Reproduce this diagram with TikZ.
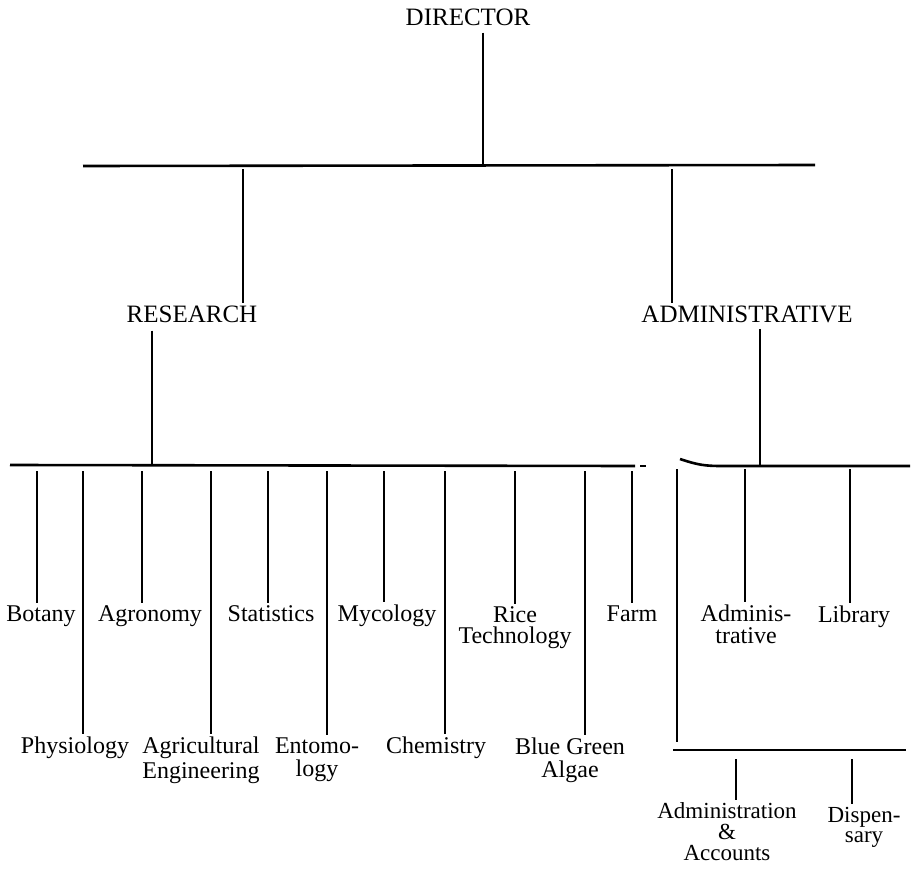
\documentclass[tikz,border=0pt]{standalone}
\usepackage{fontspec}
\setmainfont{Liberation Serif}
\usetikzlibrary{calc}

\begin{document}
\begin{tikzpicture}[
  x=0.5pt, y=-0.5pt,
  unit/.style={font=\fontsize{12}{11}\selectfont, align=center, inner sep=1pt, anchor=base},
  head/.style={unit, font=\fontsize{12.5}{13}\selectfont},
  link/.style={line width=1.3pt}
]
\useasboundingbox (0,0) rectangle (915,872);

% Top level
\node[head] (director) at (468,26) {DIRECTOR};
\node[head] (research) at (192,322) {RESEARCH};
\node[head] (admin) at (747,322) {ADMINISTRATIVE};

% Main bar
\coordinate (topL) at (83,166);
\coordinate (topR) at (815,165);
\coordinate (dirJ) at (483,166);
\coordinate (resJ) at (243,169);
\coordinate (admJ) at (672,169);
\draw[link] (topL) -- (topR);
\draw[link, shorten <=2pt] (dirJ |- director.south) -- (dirJ);
\draw[link] (resJ) -- (resJ |- research.north);
\draw[link] (admJ) -- (admJ |- admin.north);

% Research bar
\coordinate (resL) at (10,465);
\coordinate (resR) at (635,466);
\coordinate (resD) at (152,465);
\draw[link] (resL) -- (resR);
\draw[link] ($(resR)+(5,0)$) -- ++(6,0);
\draw[link, shorten <=3pt] (resD |- research.south) -- (resD);

% Research sections (multi-line: base = last line)
\node[unit] (botany) at (41,621) {Botany};
\node[unit] (agronomy) at (150,621) {Agronomy};
\node[unit] (statistics) at (271,621) {Statistics};
\node[unit] (mycology) at (387,621) {Mycology};
\node[unit, font=\fontsize{12}{10.5}\selectfont] (rice) at (515,643) {Rice\\Technology};
\node[unit] (farm) at (632,621) {Farm};
\node[unit] (physio) at (75,753) {Physiology};
\node[unit, font=\fontsize{12}{12.5}\selectfont] (agri) at (201,778) {Agricultural\\Engineering};
\node[unit, font=\fontsize{12}{11.5}\selectfont] (entomo) at (317,776) {Entomo-\\logy};
\node[unit] (chem) at (436,753) {Chemistry};
\node[unit, font=\fontsize{12}{11.5}\selectfont] (bluegreen) at (570,777) {Blue Green\\Algae};

\foreach \n/\x in {botany/37, physio/83, agronomy/142, agri/211, statistics/268,
                   entomo/327, mycology/384, chem/445, rice/515, bluegreen/585, farm/632}{
  \coordinate (\n-top) at (\x,471);
  \draw[link] (\n-top) -- (\n-top |- \n.north);
}

% Administrative bar
\coordinate (admL) at (680,459);
\coordinate (admR) at (910,466);
\coordinate (admD) at (760,466);
\draw[link] (admL) .. controls (698,465) and (705,466) .. (722,466) -- (admR);
\draw[link, shorten <=2pt] (admD |- admin.south) -- (admD);

% Administrative sections
\node[unit, font=\fontsize{12}{11}\selectfont] (adminis) at (746,643) {Adminis-\\trative};
\node[unit] (library) at (854,622) {Library};
\foreach \n/\x in {adminis/745, library/850}{
  \coordinate (\n-top) at (\x,469);
  \draw[link] (\n-top) -- (\n-top |- \n.north);
}

% Lower bar
\coordinate (lowL) at (673,750);
\coordinate (lowR) at (906,750);
\coordinate (subJ) at (677,469);
\draw[link] (lowL) -- (lowR);
\draw[link, shorten >=4pt] (subJ) -- (subJ |- lowL);

\node[unit, font=\fontsize{11.5}{10.5}\selectfont] (accounts) at (727,860) {Administration\\\&\\Accounts};
\node[unit, font=\fontsize{11.5}{10}\selectfont] (dispensary) at (864,842) {Dispen-\\sary};
\foreach \n/\x in {accounts/736, dispensary/852}{
  \coordinate (\n-top) at (\x,759);
  \draw[link] (\n-top) -- (\n-top |- \n.north);
}

\end{tikzpicture}
\end{document}
